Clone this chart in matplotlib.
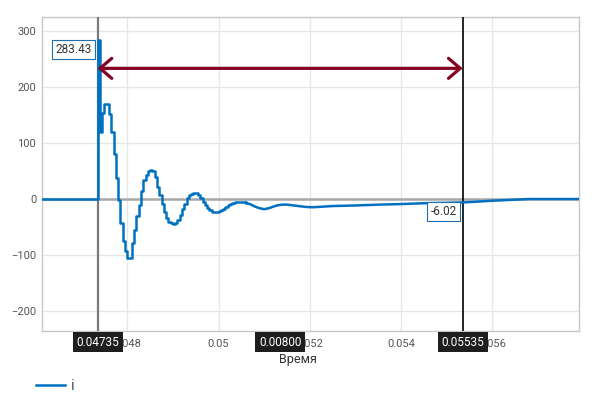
import numpy as np
import matplotlib
matplotlib.use('Agg')
import matplotlib.pyplot as plt

plt.rcParams['font.family'] = ['Roboto', 'DejaVu Sans']

# ------------------ дані: струм i(t) ------------------
t_pre = [0.0460]
i_pre = [0.0]

# дрібний крок дискретизації на перехідному процесі
t_fine_start = 0.04735
t_fine_step = 0.00005
i_fine = [283.43, 120, 154, 170, 170, 152, 120, 80, 37, -2,
          -42, -74, -92, -106, -106, -79, -56, -31, -11, 15,
          34, 43, 50, 51, 50, 40, 22, 7, -8, -23,
          -34, -41, -43, -44, -43, -37, -28, -18, -8, 1,
          6.5, 9, 10, 10, 7, 2, -4.5, -10.5, -16.5, -20,
          -22.5, -23, -23, -22, -19.5, -17, -14, -11, -8.5, -7,
          -6, -5.5, -5.5, -6]

# хвіст процесу (плавний)
t_tail = [0.0506, 0.0507, 0.0508, 0.0509, 0.0510, 0.0511, 0.0512, 0.0513,
          0.0514, 0.0515, 0.0516, 0.0517, 0.0518, 0.0519, 0.0520, 0.0521,
          0.0522, 0.0523, 0.0524, 0.0525, 0.0530, 0.0535, 0.0540, 0.0545,
          0.0550, 0.05535, 0.0556, 0.0560, 0.0564, 0.0568, 0.05788]
i_tail = [-6.5, -9.5, -13.5, -16.5, -18, -16.5, -13.5, -11,
          -10, -10, -11, -12, -13, -14, -14.5, -14.5,
          -14, -13.5, -13, -12.5, -11.5, -10, -9, -7.5,
          -6.8, -6.02, -5, -3, -1.5, 0, 0]

cursor_a = 0.04735
cursor_b = 0.05535
value_a = 283.43
value_b = -6.02
arrow_level = 233

x_ticks = [0.048, 0.05, 0.052, 0.054, 0.056]
x_tick_labels = ['0.048', '0.05', '0.052', '0.054', '0.056']
y_ticks = [-200, -100, 0, 100, 200, 300]

t_fine = np.round(t_fine_start + t_fine_step * np.arange(len(i_fine)), 6)
t_steps = np.concatenate([t_pre, t_fine, t_tail[:1]])
i_steps = np.concatenate([i_pre, i_fine, i_tail[:1]])

# ------------------ побудова ------------------
fig = plt.figure(figsize=(6, 4.08), dpi=100)
ax = fig.add_axes([0.0695, 0.1887, 0.896, 0.7689])

blue = '#0070c0'
ax.plot(t_steps, i_steps, drawstyle='steps-post', color=blue, lw=1.8, label='i', zorder=4)
ax.plot(t_tail, i_tail, color=blue, lw=1.8, zorder=4)
ax.axhline(0, color='#a8a8a8', lw=1.8, zorder=2)
ax.axvline(cursor_a, color='#7a7a7a', lw=1.6, zorder=3)
ax.axvline(cursor_b, color='black', lw=1.2, zorder=3)

ax.set_xlim(0.046124, 0.057907)
ax.set_ylim(-235.3, 324)
ax.set_xticks(x_ticks)
ax.set_xticklabels(x_tick_labels)
ax.set_yticks(y_ticks)
ax.grid(True, color='#e6e6e6', lw=1)
ax.tick_params(length=0, labelsize=8, labelcolor='#555555', pad=6)
ax.tick_params(axis='y', pad=4)
for s in ax.spines.values():
    s.set_color('#c8c8c8')
    s.set_linewidth(1)

# стрілка між курсорами
ax.annotate('', xy=(cursor_b, arrow_level), xytext=(cursor_a, arrow_level),
            arrowprops=dict(arrowstyle='<->,head_length=0.42,head_width=0.36',
                            color='#850021', lw=2.3, shrinkA=0, shrinkB=0,
                            mutation_scale=20), zorder=6)

# значення в точках курсорів
for cx, cv in [(cursor_a, value_a), (cursor_b, value_b)]:
    ax.annotate(f'{cv:.2f}', xy=(cx, cv), xytext=(-6, -3), textcoords='offset pixels',
                ha='right', va='top', fontsize=8.5, color='#333333', zorder=7,
                bbox=dict(boxstyle='square,pad=0.25', fc='white', ec='#1f6fb5', lw=0.8))

# підписи курсорів на осі x
box = dict(boxstyle='square,pad=0.3', fc='#1e1e1e', ec='none')
for cx, txt in [(cursor_a, f'{cursor_a:.5f}'),
                ((cursor_a + cursor_b) / 2, f'{cursor_b - cursor_a:.5f}'),
                (cursor_b, f'{cursor_b:.5f}')]:
    ax.annotate(txt, xy=(cx, 0), xycoords=('data', 'axes fraction'),
                xytext=(0, -11), textcoords='offset pixels', ha='center', va='center',
                fontsize=8.5, color='white', bbox=box, zorder=8, annotation_clip=False)

fig.text(0.497, 0.118, 'Время', ha='center', va='center', fontsize=9, color='#333333')

fig.legend(loc='lower left', bbox_to_anchor=(0.037, 0.003), frameon=False,
           fontsize=11, handlelength=1.9, handletextpad=0.4, labelcolor='#555555')

fig.savefig('out.png', dpi=100)
